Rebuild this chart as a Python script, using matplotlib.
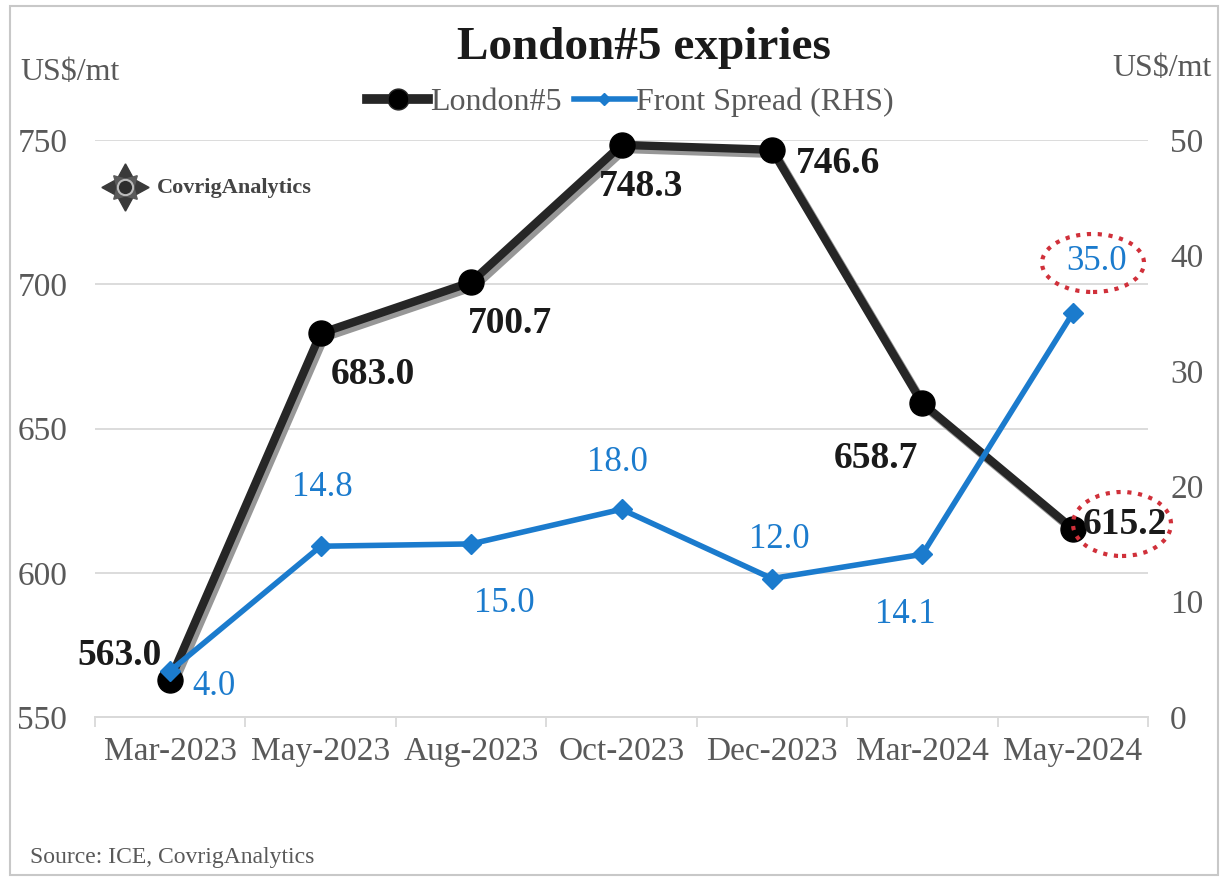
import matplotlib
matplotlib.use("Agg")
import matplotlib.pyplot as plt
import matplotlib.patheffects as pe
from matplotlib.patches import Ellipse, Rectangle
from matplotlib.lines import Line2D

# Data
expiries = ["Mar-2023", "May-2023", "Aug-2023", "Oct-2023", "Dec-2023", "Mar-2024", "May-2024"]
london5 = [563.0, 683.0, 700.7, 748.3, 746.6, 658.7, 615.2]
front_spread = [4.0, 14.8, 15.0, 18.0, 12.0, 14.1, 35.0]
left_ticks = [550, 600, 650, 700, 750]
right_ticks = [0, 10, 20, 30, 40, 50]

# Label placement (offsets in points) for each point
london_offsets = [(-6, 17, "right", "center"), (7, -30, "left", "center"),
                  (-2, -30, "left", "center"), (14, -30, "center", "center"),
                  (17, -10, "left", "center"), (-3, -40, "right", "center"),
                  (7, 3, "left", "center")]
spread_offsets = [(16, -11, "left", "center"), (1, 42, "center", "center"),
                  (24, -43, "center", "center"), (-3, 34, "center", "center"),
                  (5, 28, "center", "center"), (-12, -43, "center", "center"),
                  (17, 37, "center", "center")]

SERIF = "Liberation Serif"
BLACK = "#262626"
BLUE = "#1B7BCD"
GRAY_TXT = "#595959"

plt.rcParams["font.family"] = SERIF

fig = plt.figure(figsize=(12.2, 8.77), dpi=100)
ax = fig.add_axes([0.0779, 0.1824, 0.8631, 0.658])
ax2 = ax.twinx()

x = list(range(len(expiries)))

# Axes, ticks and gridlines
ax.set_ylim(550, 750)
ax.set_yticks(left_ticks)
ax.grid(axis="y", color="#D9D9D9", linewidth=1.3)
ax.set_axisbelow(True)
ax2.set_ylim(0, 50)
ax2.set_yticks(right_ticks)

ax.set_xlim(-0.5, len(expiries) - 0.5)
ax.set_xticks(x)
ax.set_xticklabels(expiries)
ax.set_xticks([i - 0.5 for i in range(len(expiries) + 1)], minor=True)
ax.tick_params(axis="x", which="major", length=0, pad=14, labelsize=24, labelcolor=GRAY_TXT)
ax.tick_params(axis="x", which="minor", length=7, color="#D9D9D9", width=1.3)
ax.tick_params(axis="y", length=0, pad=56, labelsize=24, labelcolor=GRAY_TXT)
for lab in ax.get_yticklabels():
    lab.set_horizontalalignment("left")
ax2.tick_params(axis="y", length=0, pad=16, labelsize=24, labelcolor=GRAY_TXT)

for a in (ax, ax2):
    for s in ("top", "left", "right"):
        a.spines[s].set_visible(False)
    a.spines["bottom"].set_color("#D9D9D9")
    a.spines["bottom"].set_linewidth(1.3)

# London#5 line with a soft offset shadow, markers drawn on top
shadow = [pe.SimpleLineShadow(offset=(2.5, -3), shadow_color="#8C8C8C", alpha=0.9), pe.Normal()]
ax.plot(x, london5, color=BLACK, linewidth=6, zorder=3, path_effects=shadow,
        clip_on=False, solid_joinstyle="round")
ax.plot(x, london5, linestyle="none", marker="o", markersize=18,
        markerfacecolor="black", markeredgecolor="black", zorder=3.5, clip_on=False)

# Front spread line
ax2.plot(x, front_spread, color=BLUE, linewidth=4, marker="D", markersize=10,
         markerfacecolor=BLUE, markeredgecolor=BLUE, zorder=4, clip_on=False)

for xi, v, (dx, dy, ha, va) in zip(x, london5, london_offsets):
    ax.annotate(f"{v:.1f}", (xi, v), xytext=(dx, dy), textcoords="offset points",
                ha=ha, va=va, fontsize=27, fontweight="bold", color="#1A1A1A", zorder=6)
for xi, v, (dx, dy, ha, va) in zip(x, front_spread, spread_offsets):
    ax2.annotate(f"{v:.1f}", (xi, v), xytext=(dx, dy), textcoords="offset points",
                 ha=ha, va=va, fontsize=25, color=BLUE, zorder=6)

# Dotted highlight ellipses
fig.add_artist(Ellipse((1093 / 1220, 1 - 263 / 877), 102 / 1220, 58 / 877,
                       transform=fig.transFigure, fill=False, edgecolor="#D0303A",
                       linestyle=(0, (1, 1.6)), linewidth=3))
fig.add_artist(Ellipse((1122 / 1220, 1 - 524 / 877), 98 / 1220, 64 / 877,
                       transform=fig.transFigure, fill=False, edgecolor="#D0303A",
                       linestyle=(0, (1, 1.6)), linewidth=3))

# Title, units, legend
fig.text(0.528, 0.945, "London#5 expiries", ha="center", va="center",
         fontsize=34, fontweight="bold", color="#1A1A1A")
fig.text(20 / 1220, 1 - 72 / 877, "US$/mt", ha="left", va="center", fontsize=23, color=GRAY_TXT)
fig.text(1112 / 1220, 1 - 68 / 877, "US$/mt", ha="left", va="center", fontsize=23, color=GRAY_TXT)

handles = [
    Line2D([], [], color=BLACK, linewidth=7, marker="o", markersize=15, markerfacecolor="black"),
    Line2D([], [], color=BLUE, linewidth=4, marker="D", markersize=6, markerfacecolor=BLUE),
]
fig.legend(handles, ["London#5", "Front Spread (RHS)"], loc="center",
           bbox_to_anchor=(0.517, 1 - 102 / 877), ncol=2, frameon=False, fontsize=23,
           handlelength=1.9, handletextpad=0.05, columnspacing=0.4,
           labelcolor=GRAY_TXT)

# Brand mark: a compass-like ornament beside the name
logo_xy = (125 / 1220, 1 - 187 / 877)
fig.add_artist(Line2D([logo_xy[0]], [logo_xy[1]], marker=(4, 1, 0), markersize=34,
                      color="#3A3A3A", transform=fig.transFigure))
fig.add_artist(Line2D([logo_xy[0]], [logo_xy[1]], marker=(4, 1, 45), markersize=24,
                      color="#5A5A5A", transform=fig.transFigure))
fig.add_artist(Line2D([logo_xy[0]], [logo_xy[1]], marker="o", markersize=11,
                      markerfacecolor="#2E2E2E", markeredgecolor="#BBBBBB",
                      markeredgewidth=1.5, transform=fig.transFigure))
fig.text(157 / 1220, 1 - 188 / 877, "CovrigAnalytics", ha="left", va="center",
         fontsize=16, fontweight="bold", color="#444444")

# Source note
fig.text(30 / 1220, 1 - 857 / 877, "Source: ICE, CovrigAnalytics", ha="left", va="center",
         fontsize=17, color=GRAY_TXT)

# Chart frame
fig.add_artist(Rectangle((10 / 1220, 0.002), 1 - 12 / 1220, 1 - 8 / 877,
                         transform=fig.transFigure, fill=False, edgecolor="#C8C8C8", linewidth=1.5))

fig.savefig("out.png", dpi=100)
